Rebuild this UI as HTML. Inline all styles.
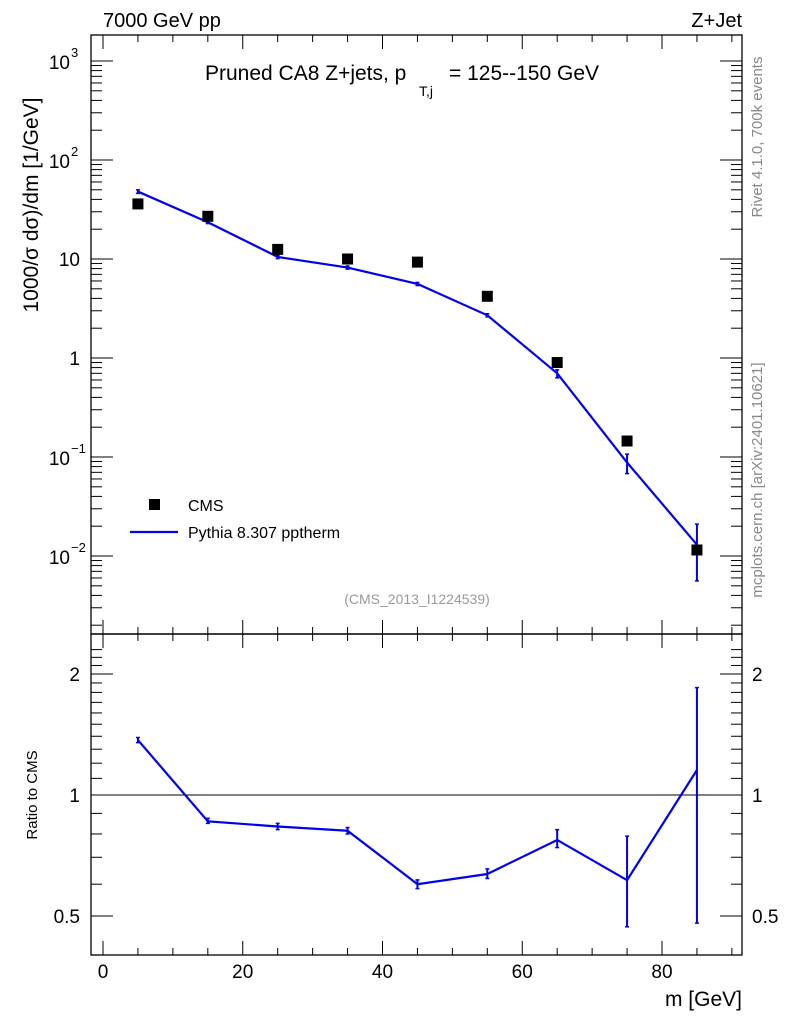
<!DOCTYPE html>
<html><head><meta charset="utf-8"><style>
body{margin:0;background:#fff;}
svg text{font-family:"Liberation Sans",sans-serif;}
</style></head><body>
<svg id="c" width="786" height="1024" xmlns="http://www.w3.org/2000/svg">
<rect width="786" height="1024" fill="#fff"/>
<g id="main"></g>
</svg>
<script>
const xCenters=[5,15,25,35,45,55,65,75,85];
const cmsVals=[36,27,12.5,10,9.3,4.2,0.9,0.145,0.0115];
const mcVals=[48,23.5,10.5,8.2,5.6,2.7,0.7,0.088,0.013];
const mcErrLo=[46,22.8,10.1,7.9,5.4,2.6,0.63,0.068,0.0056];
const mcErrHi=[50,24.2,10.9,8.5,5.8,2.8,0.76,0.107,0.021];
const ratioVals=[1.37,0.86,0.835,0.815,0.6,0.636,0.773,0.614,1.154];
const ratioLo=[1.35,0.85,0.82,0.8,0.585,0.62,0.74,0.47,0.48];
const ratioHi=[1.39,0.875,0.85,0.83,0.615,0.655,0.82,0.79,1.85];
const xTicks=[0,20,40,60,80];
const yTicks=[-2,-1,0,1,2,3];
const yTickLabels=["10","10","1","10","10","10"];
const rTicks=[0.5,1,2];

const NS="http://www.w3.org/2000/svg";
const g=document.getElementById('main');
function el(t,a,txt){const e=document.createElementNS(NS,t);for(const k in a)e.setAttribute(k,a[k]);if(txt!==undefined)e.textContent=txt;g.appendChild(e);return e;}
const L=91,R=742,T=35,M=634,B=955;
const X=v=>103+v*6.9875;
const Y=v=>259-99*Math.log10(v/10);
const RY=v=>795-402*Math.log10(v);

let f=el('rect',{x:L,y:T,width:R-L,height:M-T,fill:'none',stroke:'#000','stroke-width':1.3});

f=el('rect',{x:L,y:M,width:R-L,height:B-M,fill:'none',stroke:'#000','stroke-width':1.3});


for(let v=0;v<=90;v+=5){const big=v%20===0;const h=big?14:7;
 for(const [y0,d] of [[T,1],[M,-1],[M,1],[B,-1]]){el('line',{x1:X(v),x2:X(v),y1:y0,y2:y0+d*h,stroke:'#000'});}
}
xTicks.forEach(v=>{const t=el('text',{x:X(v),y:978,'font-size':19,'text-anchor':'middle'},String(v));
 });
let t=el('text',{x:742,y:1006,'font-size':21,'text-anchor':'end'},'m [GeV]');


for(let d=-3;d<=3;d++){for(let k=1;k<10;k++){const v=Math.pow(10,d)*k;const y=Y(v);if(y<T||y>M)continue;
 const h=k===1?22:11;el('line',{x1:L,x2:L+h,y1:y,y2:y,stroke:'#000'});el('line',{x1:R,x2:R-h,y1:y,y2:y,stroke:'#000'});}}
yTicks.forEach((d,i)=>{const y=Y(Math.pow(10,d));
 if(d===0||d===1){t=el('text',{x:80,y:y+7,'font-size':19,'text-anchor':'end'},d===0?'1':'10');}
 else{t=el('text',{x:70,y:y+8,'font-size':19,'text-anchor':'end'},yTickLabels[i]);
  el('text',{x:71,y:y-4,'font-size':13,'text-anchor':'start'},(d<0?'\u2212':'')+Math.abs(d));}
 });
t=el('text',{x:0,y:0,'font-size':21,'text-anchor':'middle',transform:'translate(38,205) rotate(-90)'},'1000/σ   dσ)/dm [1/GeV]');


for(let v=0.4;v<=2.4;v+=0.1){const y=RY(v);if(y<M||y>B)continue;const big=[0.5,1,2].some(r=>Math.abs(r-v)<1e-6);
 const h=big?22:11;el('line',{x1:L,x2:L+h,y1:y,y2:y,stroke:'#000'});el('line',{x1:R,x2:R-h,y1:y,y2:y,stroke:'#000'});}
rTicks.forEach(v=>{const y=RY(v);
 t=el('text',{x:80,y:y+7,'font-size':19,'text-anchor':'end'},String(v));
 t=el('text',{x:752,y:y+7,'font-size':19,'text-anchor':'start'},String(v));});
t=el('text',{x:0,y:0,'font-size':15,'text-anchor':'middle',transform:'translate(37,795) rotate(-90)'},'Ratio to CMS');

el('line',{x1:L,x2:R,y1:RY(1),y2:RY(1),stroke:'#000'});

t=el('text',{x:103,y:27,'font-size':20},'7000 GeV pp');
t=el('text',{x:742,y:27,'font-size':20,'text-anchor':'end'},'Z+Jet');
t=el('text',{x:205,y:80,'font-size':21},'Pruned CA8 Z+jets, p');
el('text',{x:419,y:96,'font-size':14},'T,j');
el('text',{x:449,y:80,'font-size':21},'= 125--150 GeV');
t=el('text',{x:417,y:604,'font-size':14,fill:'#999','text-anchor':'middle'},'(CMS_2013_I1224539)');
t=el('text',{x:0,y:0,'font-size':15,fill:'#888','text-anchor':'middle',transform:'translate(762,137) rotate(-90)'},'Rivet 4.1.0,  700k events');
t=el('text',{x:0,y:0,'font-size':15,fill:'#888','text-anchor':'middle',transform:'translate(762,480) rotate(-90)'},'mcplots.cern.ch [arXiv:2401.10621]');

let p=el('polyline',{points:xCenters.map((x,i)=>X(x)+','+Y(mcVals[i])).join(' '),fill:'none',stroke:'#0000ee','stroke-width':2.2});

xCenters.forEach((x,i)=>{const e=el('line',{x1:X(x),x2:X(x),y1:Y(mcErrLo[i]),y2:Y(mcErrHi[i]),stroke:'#0000ee','stroke-width':2});
 
 el('line',{x1:X(x)-2,x2:X(x)+2,y1:Y(mcErrLo[i]),y2:Y(mcErrLo[i]),stroke:'#0000ee','stroke-width':1.5});
 el('line',{x1:X(x)-2,x2:X(x)+2,y1:Y(mcErrHi[i]),y2:Y(mcErrHi[i]),stroke:'#0000ee','stroke-width':1.5});});
xCenters.forEach((x,i)=>{const e=el('rect',{x:X(x)-5.5,y:Y(cmsVals[i])-5.5,width:11,height:11,fill:'#000'});
 });

t=el('rect',{x:149,y:499,width:11,height:11,fill:'#000'});
t=el('text',{x:188,y:511,'font-size':16},'CMS');
t=el('line',{x1:130,x2:178,y1:532,y2:532,stroke:'#0000ee','stroke-width':2.2});
t=el('text',{x:188,y:538,'font-size':16},'Pythia 8.307 pptherm');

p=el('polyline',{points:xCenters.map((x,i)=>X(x)+','+RY(ratioVals[i])).join(' '),fill:'none',stroke:'#0000ee','stroke-width':2.2});

xCenters.forEach((x,i)=>{const e=el('line',{x1:X(x),x2:X(x),y1:RY(ratioLo[i]),y2:RY(ratioHi[i]),stroke:'#0000ee','stroke-width':2});
 
 el('line',{x1:X(x)-2,x2:X(x)+2,y1:RY(ratioLo[i]),y2:RY(ratioLo[i]),stroke:'#0000ee','stroke-width':1.5});
 el('line',{x1:X(x)-2,x2:X(x)+2,y1:RY(ratioHi[i]),y2:RY(ratioHi[i]),stroke:'#0000ee','stroke-width':1.5});});
</script>
</body></html>
